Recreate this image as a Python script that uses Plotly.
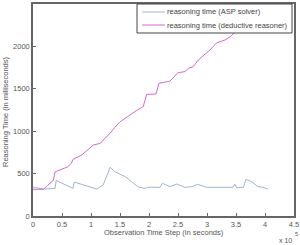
import plotly.graph_objects as go

# ASP solver (x in units of 1e5 seconds, y in ms)
asp_x = [0, 0.18, 0.38, 0.40, 0.55, 0.69, 0.71, 0.85, 0.98, 1.10, 1.21, 1.33, 1.41, 1.50, 1.59, 1.70, 1.82, 1.93, 1.99, 2.19, 2.23, 2.36, 2.48, 2.62, 2.74, 2.84, 2.94, 2.99, 3.45, 3.48, 3.51, 3.63, 3.67, 3.77, 3.88, 3.97, 4.05]
asp_y = [340, 318, 326, 420, 370, 326, 400, 370, 340, 318, 365, 574, 522, 495, 463, 404, 340, 326, 340, 338, 385, 346, 377, 338, 346, 374, 354, 338, 338, 374, 334, 338, 433, 404, 346, 338, 318]

# Deductive reasoner
ded_x = [0, 0.18, 0.25, 0.35, 0.38, 0.47, 0.60, 0.66, 0.69, 0.84, 0.98, 1.04, 1.16, 1.21, 1.33, 1.41, 1.50, 1.60, 1.70, 1.80, 1.90, 1.93, 1.96, 2.12, 2.17, 2.36, 2.45, 2.50, 2.62, 2.68, 2.76, 2.85, 2.97, 3.05, 3.17, 3.31, 3.40, 3.48, 3.60, 3.75, 3.90]
ded_y = [315, 315, 360, 420, 520, 542, 580, 621, 668, 719, 798, 837, 857, 896, 975, 1046, 1110, 1160, 1200, 1250, 1289, 1370, 1435, 1438, 1564, 1590, 1650, 1690, 1703, 1741, 1760, 1839, 1910, 1957, 2044, 2075, 2114, 2173, 2250, 2330, 2420]

series_names = ["reasoning time (ASP solver)", "reasoning time (deductive reasoner)"]
series_colors = ["#9fb6cf", "#d468d4"]

x_ticks = [0, 0.5, 1, 1.5, 2, 2.5, 3, 3.5, 4, 4.5]
x_tick_text = ["0", "0.5", "1", "1.5", "2", "2.5", "3", "3.5", "4", "4.5"]
y_ticks = [0, 500, 1000, 1500, 2000, 2500]

FAM = "Liberation Sans, Arial, sans-serif"
tick_font = dict(family=FAM, size=7.5, color="#555555")
title_font = dict(family=FAM, size=7.5, color="#555555")
legend_font = dict(family=FAM, size=7.5, color="#444444")

fig = go.Figure()
fig.add_trace(go.Scatter(x=asp_x, y=asp_y, mode="lines", name=series_names[0],
                         line=dict(color=series_colors[0], width=1), showlegend=False))
fig.add_trace(go.Scatter(x=ded_x, y=ded_y, mode="lines", name=series_names[1],
                         line=dict(color=series_colors[1], width=1), showlegend=False))

axis_common = dict(showgrid=False, zeroline=False, showline=True, linecolor="#666666", linewidth=1.5,
                   mirror=True, ticks="inside", ticklen=3, tickcolor="#666666", tickfont=tick_font,
                   automargin=False)

# manual compact legend (box, line samples, labels) in paper coords
L, R, T, B = 33, 294, 4, 216
W, H = R - L, B - T
def px(xp): return (xp - L) / W
def py(yp): return (B - yp) / H

shapes = [dict(type="rect", xref="paper", yref="paper", x0=px(137), x1=px(292), y0=py(33), y1=py(4),
               fillcolor="white", line=dict(color="#444444", width=1), layer="above")]
annotations = []
for i, (nm, col) in enumerate(zip(series_names, series_colors)):
    yy = py(12 + 13 * i)
    shapes.append(dict(type="line", xref="paper", yref="paper", x0=px(142), x1=px(165), y0=yy, y1=yy,
                       line=dict(color=col, width=1), layer="above"))
    annotations.append(dict(text=nm, xref="paper", yref="paper", x=px(166), y=yy, xanchor="left",
                            yanchor="middle", showarrow=False, font=legend_font, borderpad=0))

annotations += [
    dict(text="Observation Time Step (in seconds)", xref="paper", yref="paper", x=0.5, y=py(232),
         xanchor="center", yanchor="middle", showarrow=False, font=title_font),
    dict(text="Reasoning Time (in milliseconds)", xref="paper", yref="paper", x=px(5), y=py(112),
         xanchor="center", yanchor="middle", textangle=-90, showarrow=False, font=title_font),
    dict(text="x 10", xref="paper", yref="paper", x=px(293), y=py(240),
         xanchor="right", yanchor="middle", showarrow=False, font=dict(family=FAM, size=7, color="#555555"),
         borderpad=0),
    dict(text="5", xref="paper", yref="paper", x=px(293.5), y=py(234),
         xanchor="left", yanchor="middle", showarrow=False, font=dict(family=FAM, size=5.5, color="#555555"),
         borderpad=0),
]

fig.update_layout(
    width=300, height=245,
    margin=dict(l=L, r=300 - R, t=T, b=245 - B),
    paper_bgcolor="white", plot_bgcolor="white",
    showlegend=False,
    xaxis=dict(range=[0, 4.5], tickvals=x_ticks, ticktext=x_tick_text, **axis_common),
    yaxis=dict(range=[0, 2500], tickvals=y_ticks, **axis_common),
    shapes=shapes,
    annotations=annotations,
)

fig.write_html("out.html", config={"displayModeBar": False},
               post_script="document.body.style.margin='0';document.body.style.overflow='hidden';")
